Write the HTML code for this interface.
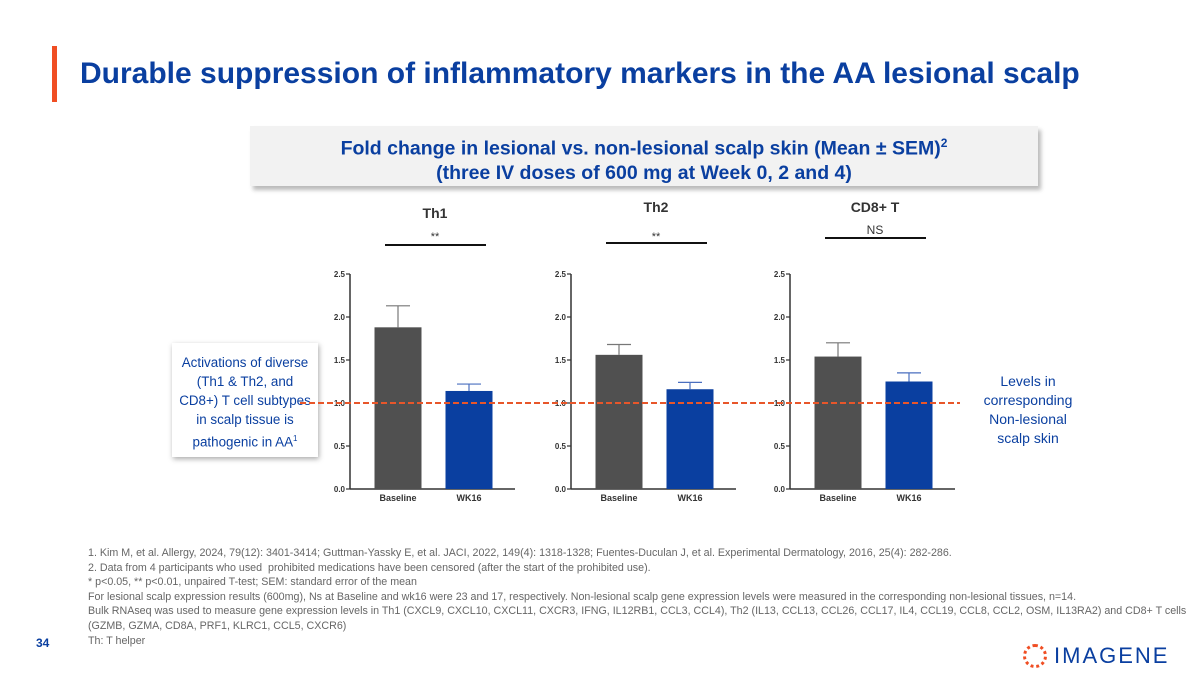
<!DOCTYPE html>
<html><head><meta charset="utf-8"><style>
body{margin:0;width:1200px;height:675px;background:#fff;font-family:"Liberation Sans",Arial,sans-serif;position:relative;overflow:hidden}
.abs{position:absolute}
.title{left:80px;top:57px;font-size:30px;font-weight:bold;color:#0a3fa0;white-space:nowrap}
.bar{left:52px;top:46px;width:5px;height:56px;background:#f04e23}
.hdr{left:250px;top:126px;width:788px;height:55px;background:#f2f2f2;box-shadow:3px 4px 4px #bbb;text-align:center;font-weight:bold;color:#0a3fa0;font-size:19.5px;line-height:24px;padding-top:5px}
.note{left:88px;top:546px;font-size:10.7px;color:#666;line-height:14.6px;white-space:nowrap}
.box{left:172px;top:343px;width:146px;height:104px;background:#fff;box-shadow:1px 2px 5px #aaa;text-align:center;color:#0a3fa0;font-size:13.4px;line-height:19px;padding-top:10px}
.right{left:968px;top:372px;width:120px;text-align:center;color:#0a3fa0;font-size:14px;line-height:19px}
</style></head><body>
<div class="abs bar"></div>
<div class="abs title">Durable suppression of inflammatory markers in the AA lesional scalp</div>
<div class="abs hdr">Fold change in lesional vs. non-lesional scalp skin (Mean ± SEM)<sup style="font-size:12px">2</sup><br>(three IV doses of 600 mg at Week 0, 2 and 4)</div>
<div class="abs box">Activations of diverse<br>(Th1 &amp; Th2, and<br>CD8+) T cell subtypes<br>in scalp tissue is<br>pathogenic in AA<sup style="font-size:8px">1</sup></div>
<div class="abs right">Levels in<br>corresponding<br>Non-lesional<br>scalp skin</div>
<svg class="abs" style="left:0;top:0" width="1200" height="675" id="chart"></svg>
<div class="abs note">1. Kim M, et al. Allergy, 2024, 79(12): 3401-3414; Guttman-Yassky E, et al. JACI, 2022, 149(4): 1318-1328; Fuentes-Duculan J, et al. Experimental Dermatology, 2016, 25(4): 282-286.<br>2. Data from 4 participants who used&nbsp; prohibited medications have been censored (after the start of the prohibited use).<br>* p&lt;0.05, ** p&lt;0.01, unpaired T-test; SEM: standard error of the mean<br>For lesional scalp expression results (600mg), Ns at Baseline and wk16 were 23 and 17, respectively. Non-lesional scalp gene expression levels were measured in the corresponding non-lesional tissues, n=14.<br>Bulk RNAseq was used to measure gene expression levels in Th1 (CXCL9, CXCL10, CXCL11, CXCR3, IFNG, IL12RB1, CCL3, CCL4), Th2 (IL13, CCL13, CCL26, CCL17, IL4, CCL19, CCL8, CCL2, OSM, IL13RA2) and CD8+ T cells<br>(GZMB, GZMA, CD8A, PRF1, KLRC1, CCL5, CXCR6)<br>Th: T helper</div>
<div class="abs" style="left:36px;top:636px;font-size:12px;font-weight:bold;color:#0a3fa0">34</div>
<div class="abs" style="left:1023px;top:644px;width:24px;height:24px;border-radius:50%;border:3px dotted #f04e23;box-sizing:border-box"></div>
<div class="abs" style="left:1054px;top:643px;font-size:22px;color:#0a3fa0;letter-spacing:2px;line-height:26px">IMAGENE</div>
<script>
const panels=["Th1","Th2","CD8+ T"];
const sig=["**","**","NS"];
const categories=["Baseline","WK16"];
const baseline=[1.88,1.56,1.54];
const wk16=[1.14,1.16,1.25];
const baselineErr=[0.25,0.12,0.16];
const wk16Err=[0.08,0.08,0.10];
const ticks=[0,0.5,1.0,1.5,2.0,2.5];
const refValue=1.0;
const svg=document.getElementById('chart');
const NS='http://www.w3.org/2000/svg';
function mk(t,a,txt){const e=document.createElementNS(NS,t);for(const k in a)e.setAttribute(k,a[k]);if(txt!==undefined)e.textContent=txt;svg.appendChild(e);return e;}
const axX=[350,571,790],y0=489,ppu=86;
function Y(v){return y0-v*ppu;}
const titleY=[218,212,212],sigY=[240,240,234],sigLineY=[245,243,238];
for(let p=0;p<3;p++){
  const ax=axX[p];
  let e=mk('line',{x1:ax,y1:y0,x2:ax+165,y2:y0,stroke:'#333','stroke-width':1.5});
  
  e=mk('line',{x1:ax,y1:y0,x2:ax,y2:Y(2.5),stroke:'#333','stroke-width':1.5});
  
  ticks.forEach(t=>{mk('line',{x1:ax-4,y1:Y(t),x2:ax,y2:Y(t),stroke:'#333','stroke-width':1.2});
    e=mk('text',{x:ax-5,y:Y(t)+3,'font-size':8,'font-weight':'bold','text-anchor':'end',fill:'#333'},t.toFixed(1));
    });
  const vals=[baseline[p],wk16[p]],errs=[baselineErr[p],wk16Err[p]],cols=['#505050','#0a3fa0'],ecol=['#777','#4a6fbf'];
  for(let i=0;i<2;i++){
    const cx=ax+(i===0?48:119),w=47;
    e=mk('rect',{x:cx-w/2,y:Y(vals[i]),width:w,height:Y(0)-Y(vals[i]),fill:cols[i]});
    
    mk('line',{x1:cx,y1:Y(vals[i]),x2:cx,y2:Y(vals[i]+errs[i]),stroke:ecol[i],'stroke-width':1.2});
    e=mk('line',{x1:cx-12,y1:Y(vals[i]+errs[i]),x2:cx+12,y2:Y(vals[i]+errs[i]),stroke:ecol[i],'stroke-width':1.2});
    
    e=mk('text',{x:cx,y:y0+12,'font-size':9,'font-weight':'bold','text-anchor':'middle',fill:'#333'},categories[i]);
    
  }
  e=mk('text',{x:ax+85,y:titleY[p],'font-size':14,'font-weight':'bold','text-anchor':'middle',fill:'#333'},panels[p]);
  
  e=mk('text',{x:ax+85,y:sigY[p],'font-size':sig[p]==='NS'?12:11,'text-anchor':'middle',fill:'#333'},sig[p]);
  
  e=mk('line',{x1:ax+35,y1:sigLineY[p],x2:ax+136,y2:sigLineY[p],stroke:'#111','stroke-width':2});
  
}
let r=mk('line',{x1:300,y1:Y(refValue),x2:960,y2:Y(refValue),stroke:'#e8562a','stroke-width':2,'stroke-dasharray':'6,3'});

</script>
</body></html>
